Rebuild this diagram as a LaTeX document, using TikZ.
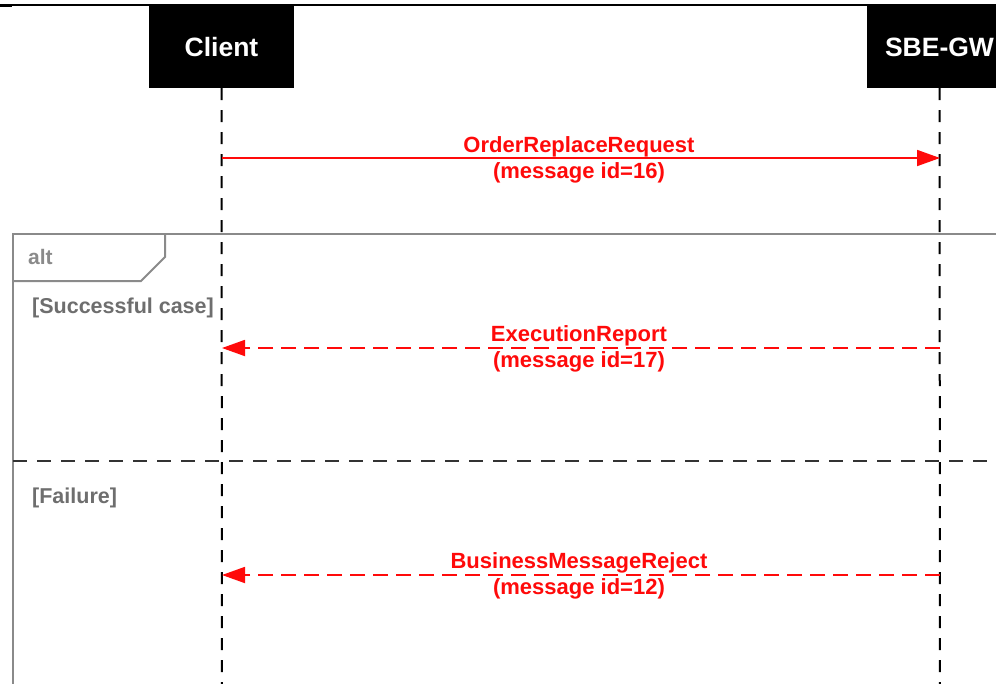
\documentclass[tikz,border=0pt]{standalone}
\usepackage{fontspec}
\setmainfont{Liberation Sans}
\usetikzlibrary{arrows.meta}
\definecolor{framegray}{HTML}{8A8A8A}
\definecolor{labelgray}{HTML}{6E6E6E}
\definecolor{msgred}{HTML}{FF0A0A}
\tikzset{
  actorbox/.style={fill=black, text=white, minimum width=145pt, minimum height=82pt, inner sep=0pt, font=\bfseries\fontsize{26.5}{30}\selectfont},
  lifeline/.style={black, line width=2pt, dash pattern=on 12pt off 10pt},
  framestyle/.style={framegray, line width=2pt},
  guard/.style={text=labelgray, font=\bfseries\fontsize{21.5}{25}\selectfont, anchor=west, inner sep=0pt},
  msglabel/.style={text=msgred, font=\bfseries\fontsize{22}{26}\selectfont, align=center, inner sep=0pt},
  syncmsg/.style={msgred, line width=1.8pt, -{Triangle[length=23pt, width=16pt]}},
  replymsg/.style={msgred, line width=1.8pt, dash pattern=on 15pt off 8pt, -{Triangle[length=23pt, width=16pt]}},
  separator/.style={black!80, line width=2pt, dash pattern=on 14pt off 10pt}
}
\begin{document}
\begin{tikzpicture}[x=1pt, y=-1pt]
\useasboundingbox (0,0) rectangle (996,683);
\clip (0,0) rectangle (996,683);
\fill[white] (0,0) rectangle (996,683);
% top border
\draw[black, line width=1.5pt] (0,5) -- (996,5);
\draw[black, line width=3pt] (0,5) -- (12,5);
% actors
\node[actorbox] (client) at (221.5,47) {Client};
\node[actorbox] (gw) at (939.5,47) {SBE-GW};
% alt frame
\draw[framestyle] (1010,234) -- (13,234) -- (13,700);
\draw[framestyle] (13,281) -- (141,281) -- (165,257) -- (165,234);
\node[text=framegray, font=\bfseries\fontsize{21}{24}\selectfont, anchor=west, inner sep=0pt] (altlbl) at (28,257) {alt};
\node[guard] (g1) at (32,308) {[Successful case]};
\node[guard] (g2) at (32,498) {[Failure]};
\coordinate (sepL) at (13,461);
\coordinate (sepR) at (1000,461);
\draw[separator] (sepL) -- (sepR);
% lifelines
\coordinate (clientEnd) at (222,700);
\coordinate (gwEnd) at (940,700);
\draw[lifeline] (client.south) -- (clientEnd);
\draw[lifeline] (gw.south) -- (gwEnd);
% message anchors
\coordinate (c1) at (222,158);
\coordinate (s1) at (940,158);
\coordinate (c2) at (222,348);
\coordinate (s2) at (940,348);
\coordinate (c3) at (222,575);
\coordinate (s3) at (940,575);
% messages
\draw[syncmsg] (c1) -- (s1);
\node[msglabel] (m1) at (579,160) {OrderReplaceRequest\\(message id=16)};
\draw[replymsg] (s2) -- (c2);
\node[msglabel] (m2) at (579,349) {ExecutionReport\\(message id=17)};
\draw[replymsg] (s3) -- (c3);
\node[msglabel] (m3) at (579,576) {BusinessMessageReject\\(message id=12)};
\end{tikzpicture}
\end{document}
